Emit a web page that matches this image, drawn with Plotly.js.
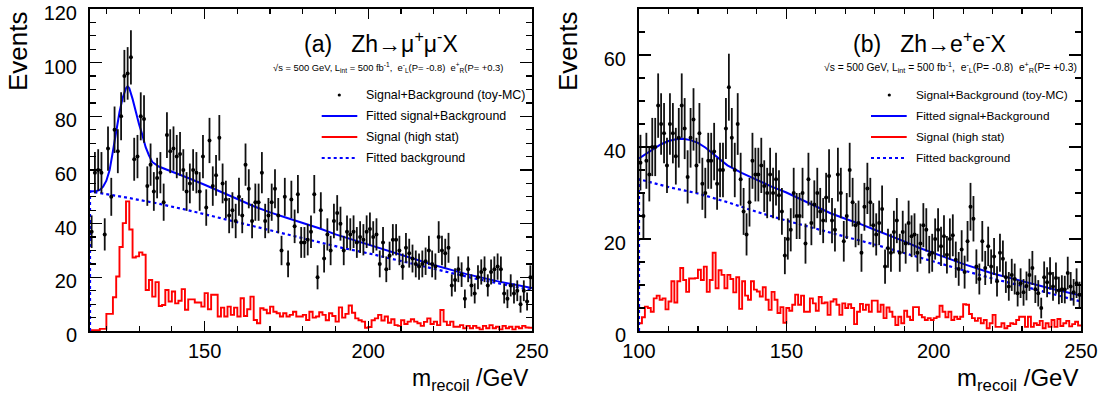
<!DOCTYPE html>
<html><head><meta charset="utf-8">
<script src="https://cdn.plot.ly/plotly-3.0.1.min.js"></script>
<style>html,body{margin:0;padding:0;background:#fff}</style>
</head><body><div id="chart" style="width:1104px;height:400px"></div>
<script>
// ---------- Panel (a): Zh -> mu+ mu- X ----------
const A_LOW = 115, A_HIGH = 250;
const A_data = [
 37, 59, 60, 59, 36, 68, 50, 75, 67, 80,
 95, 96, 102, 64, 65, 80, 79, 54, 62, 52,
 57, 59, 48, 73, 67, 68, 65, 66, 60, 52,
 55, 60, 59, 52, 65, 46, 71, 54, 58, 72,
 55, 49, 43, 45, 41, 50, 43, 62, 53, 41,
 48, 48, 59, 41, 43, 48, 53, 43, 30, 50,
 25, 49, 39, 51, 33, 33, 34, 37, 51, 20,
 45, 27, 36, 30, 41, 44, 40, 30, 37, 36,
 37, 33, 35, 34, 37, 38, 35, 36, 25, 33,
 23, 28, 34, 34, 30, 24, 31, 29, 27, 25,
 24, 25, 26, 30, 25, 24, 35, 30, 29, 31,
 17, 19, 23, 21, 12, 23, 17, 14, 20, 22,
 23, 17, 22, 23, 24, 23, 14, 12, 17, 14,
 15, 10, 15, 11, 20
];
const A_signal = [
 0.3, 0.3, 0.3, 0.8, 0.8, 6.4, 6.4, 12.6, 20.3, 31.3,
 40.2, 48.3, 37.8, 27.4, 27.8, 29.3, 28.4, 15.3, 19, 12.8,
 18.2, 9.3, 9.7, 15.3, 11, 14.7, 10.3, 11.3, 15.6, 7.9,
 11.8, 11.8, 10.6, 10.6, 9.1, 14.1, 8.1, 13.5, 13.5, 5.4,
 8.7, 5.4, 9.1, 6, 8.7, 5.4, 12.2, 5.6, 8.1, 12.8,
 4.1, 2.9, 8.5, 7.9, 6.6, 9.1, 7.2, 6.6, 5.4, 6.6,
 5.4, 6, 7.2, 5.4, 5.4, 6, 4.1, 7.2, 5, 5.4,
 7, 6, 4, 6.6, 5.6, 3.5, 8.8, 5, 6.4, 9.5,
 6.8, 4.7, 4, 3.5, 1.2, 1.5, 4, 4.7, 6, 3.9,
 5.4, 3.1, 4.4, 2.2, 1.9, 4, 2.6, 3.5, 4.4, 3.5,
 2.9, 1.9, 3.4, 4.7, 2.6, 3.5, 2.2, 7.8, 3.5, 2.2,
 3.5, 1.6, 1.6, 2.2, 1, 1.9, 1, 1.9, 1.2, 0.6,
 1.9, 1, 2.2, 1, 1.6, 0.6, 1.9, 1, 1.6, 0.6,
 1.6, 1, 1.9, 1.3, 1.2
];
const A_fitSBx = [115,116,117,118,119,120,121,122,123,124,125,126,126.5,127,128,129,130,131,132,133,134,136,140,145,150,155,160,165,170,175,180,185,190,200,210,220,230,240,250];
const A_fitSBy = [52,52,52.2,52.6,53.8,56,60,67,75,81.5,87,90.5,91.2,90.5,86.5,81.5,77,73,68.5,65.5,63,61.3,59.5,57,54.5,52,49.2,46.5,44.2,42.2,40.2,38.3,36,32.2,28.3,24.6,21.2,18.4,16];
const A_fitBx = [115,115,125,135,145,155,165,175,183,192,202,212,222,232,242,250];
const A_fitBy = [0,52,50,47.7,45,42,39,36,33.8,31,28.4,25.5,22.5,19.7,17.2,15.2];

// ---------- Panel (b): Zh -> e+ e- X ----------
const B_LOW = 100, B_HIGH = 250;
const B_data = [
 36.6, 25, 37, 34, 40, 40, 49, 45, 43, 36,
 45, 43, 38, 42, 49, 44, 33.5, 42, 46, 36,
 43, 32, 30, 37, 37, 39, 32, 35, 35, 44,
 53, 42, 35, 45, 33, 26, 21, 28, 37, 34,
 34, 36, 31.5, 30, 34, 30, 33, 29.5, 26, 16.4,
 20, 22, 30, 25, 25, 30, 19, 33, 23.5, 27.5,
 30, 26, 24, 29, 33.7, 24, 22, 34, 30, 19.5,
 25, 35, 28, 23, 23.5, 17, 27, 31, 28, 23,
 21, 23.5, 26.5, 14, 18, 17, 21.5, 24, 17, 21.5,
 19, 23.5, 20.6, 21, 17, 19, 23, 22, 16.6, 17,
 20, 22, 18.4, 20.6, 16.6, 20, 20.8, 15.5, 13.5, 17.7,
 12.8, 19.5, 27, 24.4, 14, 11.3, 19.5, 13.7, 18.4, 14,
 16.2, 10.8, 17, 15.7, 11.7, 9.7, 12.2, 11.3, 8.2, 10.4,
 8.4, 9.8, 12.2, 13.7, 9.1, 8.2, 5, 11.7, 10.6, 12.5,
 9.7, 11.5, 8.8, 9.1, 9, 12.6, 9.7, 8.4, 10.4, 7.9
];
const B_signal = [
 1.7, 3, 5.3, 5, 4.2, 7.1, 7.7, 6.8, 7.1, 4.7,
 6.4, 10.8, 6.2, 10.8, 13.7, 11.1, 8.5, 11.4, 11.4, 11.5,
 13.3, 11.1, 14, 8.5, 11.1, 17, 9.3, 13.2, 12.2, 9.3,
 12.2, 11.3, 8.4, 11.7, 4.8, 10.8, 7.7, 6.8, 10.8, 9,
 8.6, 7.5, 9.5, 6.8, 4.6, 8.5, 6.8, 3.9, 5.2, 1.8,
 5, 4.4, 5.7, 7.9, 5.7, 7.7, 4.2, 4.2, 7.1, 6,
 4.4, 7.4, 6, 6.2, 3.5, 6.4, 6.9, 5.7, 3.5, 6.0,
 5.0, 5.8, 5.0, 1.5, 4.2, 5.9, 4.6, 5.7, 4.2, 6.6,
 6.6, 4.2, 5.7, 2.8, 5.1, 4.2, 3.1, 1.3, 3.1, 1.7,
 4.4, 3.1, 2.4, 5.2, 5.2, 3.5, 3.0, 2.4, 2.8, 2.4,
 2.8, 3.1, 5.5, 4.2, 3.0, 4.2, 2.4, 3.1, 2.6, 3.1,
 5.8, 5.7, 3.7, 2.8, 2.2, 2.8, 1.7, 2.4, 0.6, 1.7,
 3.5, 0.9, 0.9, 1.7, 0.6, 1.1, 1.7, 1.5, 2.4, 3.1,
 3.1, 0.9, 3.1, 0.9, 1.7, 1.3, 2.2, 0.6, 1.7, 0.9,
 2.4, 0.9, 2.6, 1.1, 1.7, 2.2, 1.0, 1.5, 2.0, 1.2
];
const B_fitSBx = [100,102.5,105,107.5,110,112.5,115,117.5,120,122.5,125,127.5,130,135,140,145,150,155,160,165,170,175,180,185,190,195,200,210,220,230,240,250];
const B_fitSBy = [37.5,38.6,39.6,40.6,41.3,41.7,41.8,41.5,40.9,39.9,38.6,37.2,36,34.3,32.8,31.4,30.1,28.6,27.2,25.6,24.4,23.3,22,20.8,19.5,18.1,16.9,14.6,12.5,10.8,9.2,7.7];
const B_fitBx = [100,100,110,120,130,140,150,160,170,180,190,200,210,220,230,240,250];
const B_fitBy = [0,33,31.3,29.9,28,25.9,24,22.2,20.5,18.8,17,15.1,13.2,11.4,9.8,8.1,6.4];

const LEG_LABELS = ['Signal+Background (toy-MC)', 'Fitted signal+Background', 'Signal (high stat)', 'Fitted background'];
const X_TICKS = [100, 150, 200, 250];

// ---------- helpers ----------
const W = 1104, H = 400;
const REG = "'Liberation Sans', Arial, Helvetica, sans-serif";
const px = v => v / W, py = v => 1 - v / H;
const centers = (low, n) => Array.from({length: n}, (_, i) => low + i + 0.5);
const edges = (low, vals) => Array.from({length: vals.length + 1}, (_, i) => low + i);
const stepY = vals => vals.concat([vals[vals.length - 1]]);

function panelTraces(low, data, sig, sbx, sby, bx, by, xa, ya) {
  return [
    {type: 'scatter', mode: 'lines', x: edges(low, sig), y: stepY(sig), line: {shape: 'hv', color: '#ff0000', width: 1.9}, xaxis: xa, yaxis: ya, hoverinfo: 'skip'},
    {type: 'scatter', mode: 'lines', x: bx, y: by, line: {color: '#0000ff', width: 2.2, dash: '3px,3px'}, xaxis: xa, yaxis: ya},
    {type: 'scatter', mode: 'lines', x: sbx, y: sby, line: {color: '#0000ff', width: 2}, xaxis: xa, yaxis: ya},
    {type: 'scatter', mode: 'markers', x: centers(low, data.length), y: data,
     marker: {color: '#000', size: 4},
     error_y: {type: 'sqrt', visible: true, color: '#111', thickness: 1.8, width: 0},
     xaxis: xa, yaxis: ya}
  ];
}

const traces = [
  ...panelTraces(A_LOW, A_data, A_signal, A_fitSBx, A_fitSBy, A_fitBx, A_fitBy, 'x', 'y'),
  ...panelTraces(B_LOW, B_data, B_signal, B_fitSBx, B_fitSBy, B_fitBx, B_fitBy, 'x2', 'y2')
];

const yDom = [py(331), py(9)];
const axBase = {
  showline: true, linewidth: 2, linecolor: '#000', mirror: 'allticks',
  ticks: 'inside', tickcolor: '#000', showgrid: false, zeroline: false,
  ticklabeloverflow: 'allow',
  tickfont: {family: REG, size: 20, color: '#000'}
};
const xax = (dom, rng) => Object.assign({}, axBase, {
  domain: dom, range: rng, tickmode: 'array', tickvals: X_TICKS, ticklen: 10, tickwidth: 1.4,
  minor: {ticks: 'inside', dtick: 10, tick0: 0, ticklen: 5, tickwidth: 1.2, tickcolor: '#000'},
  ticklabelstandoff: 1
});
const yax = (rng) => Object.assign({}, axBase, {
  domain: yDom, range: rng, dtick: 20, tick0: 0, ticklen: 12, tickwidth: 1.4,
  minor: {ticks: 'inside', dtick: 5, tick0: 0, ticklen: 6, tickwidth: 1.2, tickcolor: '#000'},
  ticklabelstandoff: 7, ticklabelshift: 4
});

function ann(text, x, y, size, xanchor, yanchor, extra) {
  return Object.assign({text: text, x: px(x), y: py(y), xref: 'paper', yref: 'paper',
    xanchor: xanchor, yanchor: yanchor, showarrow: false,
    font: {family: REG, size: size, color: '#000'}}, extra || {});
}
const NB = '\u00a0';
const infoText = '√s = 500 GeV, L<sub>int</sub> = 500 fb<sup>-1</sup>,' + NB + NB + 'e<sup>-</sup><sub>L</sub>(P= -0.8)' + NB + NB + 'e<sup>+</sup><sub>R</sub>(P= +0.3)';

function legendBlock(dotX, lx0, lx1, tx, size) {
  const rows = [95, 116, 137, 158];
  const shapes = [
    {type: 'circle', xref: 'paper', yref: 'paper', x0: px(dotX - 1.6), x1: px(dotX + 1.6), y0: py(rows[0] + 1.6), y1: py(rows[0] - 1.6), fillcolor: '#000', line: {width: 0}},
    {type: 'line', xref: 'paper', yref: 'paper', x0: px(lx0), x1: px(lx1), y0: py(rows[1]), y1: py(rows[1]), line: {color: '#0000ff', width: 2}},
    {type: 'line', xref: 'paper', yref: 'paper', x0: px(lx0), x1: px(lx1), y0: py(rows[2]), y1: py(rows[2]), line: {color: '#ff0000', width: 2}},
    {type: 'line', xref: 'paper', yref: 'paper', x0: px(lx0), x1: px(lx1), y0: py(rows[3]), y1: py(rows[3]), line: {color: '#0000ff', width: 2.2, dash: '3px,3px'}}
  ];
  const anns = LEG_LABELS.map((t, i) => ann(t, tx, rows[i], size, 'left', 'middle'));
  return {shapes, anns};
}
const legA = legendBlock(339.3, 321.7, 357.3, 364, 12.4);
const legB = legendBlock(889.3, 871, 906.7, 914, 11.8);

const layout = {
  width: W, height: H, margin: {l: 0, r: 0, t: 0, b: 0},
  paper_bgcolor: '#fff', plot_bgcolor: '#fff', showlegend: false,
  xaxis: Object.assign(xax([px(90), px(532)], [A_LOW, A_HIGH]), {anchor: 'y'}),
  yaxis: Object.assign(yax([0, 120]), {anchor: 'x'}),
  xaxis2: Object.assign(xax([px(639), px(1081)], [B_LOW, B_HIGH]), {anchor: 'y2'}),
  yaxis2: Object.assign(yax([0, 70]), {anchor: 'x2'}),
  shapes: legA.shapes.concat(legB.shapes),
  annotations: [
    ann('Events', 18, 51, 26, 'center', 'middle', {textangle: -90}),
    ann('Events', 568, 51, 26, 'center', 'middle', {textangle: -90}),
    ann('m<sub>recoil</sub>' + NB + '/GeV', 531, 379, 23, 'right', 'middle'),
    ann('m<sub>recoil</sub>' + NB + '/GeV', 1080, 379, 24, 'right', 'middle'),
    ann('(a)' + NB + NB + NB + 'Zh→μ<sup>+</sup>μ<sup>-</sup>X', 302, 42, 23, 'left', 'middle'),
    ann('(b)' + NB + NB + NB + 'Zh→e<sup>+</sup>e<sup>-</sup>X', 851, 42, 23, 'left', 'middle'),
    ann(infoText, 271, 67, 9.4, 'left', 'middle'),
    ann(infoText, 822, 67, 10.3, 'left', 'middle')
  ].concat(legA.anns, legB.anns)
};

Plotly.newPlot('chart', traces, layout, {staticPlot: true, displayModeBar: false});
</script></body></html>
